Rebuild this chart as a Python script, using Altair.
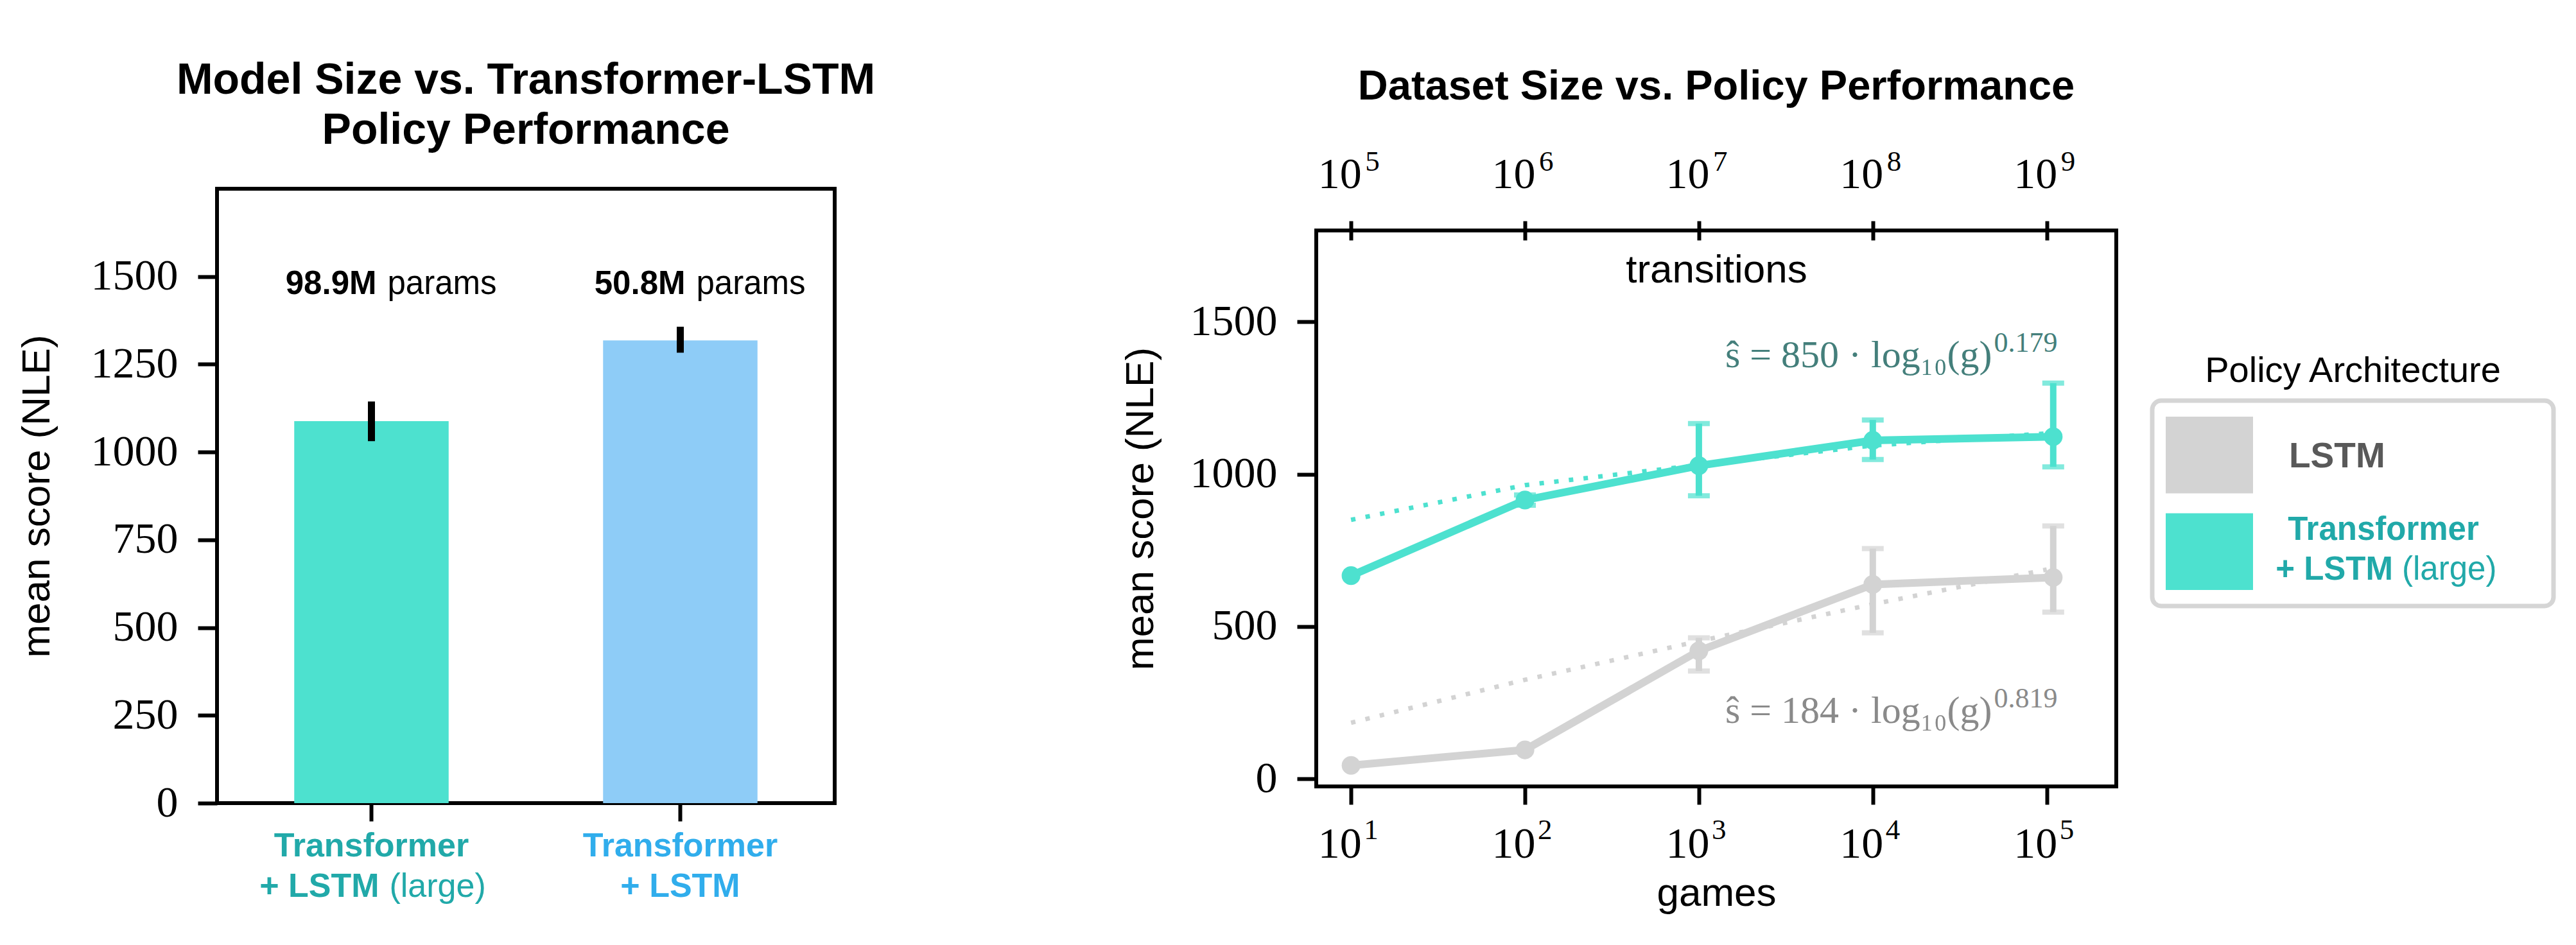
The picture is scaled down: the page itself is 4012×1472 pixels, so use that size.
import altair as alt
import pandas as pd

# ---------------- data: left panel (model size) ----------------
archs = ["Transformer + LSTM (large)", "Transformer + LSTM"]
arch_line1 = ["Transformer", "Transformer"]
arch_line2 = ["+ LSTM", "+ LSTM"]
arch_suffix = ["(large)", ""]
bar_means = [1088, 1318]
bar_err_lo = [1031, 1283]
bar_err_hi = [1144, 1357]
param_counts = ["98.9M", "50.8M"]
param_word = ["params", "params"]
param_y = [1450, 1450]
left_y_ticks = [0, 250, 500, 750, 1000, 1250, 1500]

# ---------------- data: right panel (dataset size) ----------------
series = ["LSTM", "Transformer + LSTM (large)"]
games = [10, 100, 1000, 10000, 109000]
lstm_mean = [44, 95, 420, 638, 661]
lstm_lo = [44, 95, 354, 479, 547]
lstm_hi = [44, 95, 463, 756, 830]
tr_mean = [667, 915, 1028, 1111, 1123]
tr_lo = [667, 898, 929, 1048, 1024]
tr_hi = [667, 932, 1166, 1178, 1299]
fit_games = [10, 100, 1000, 10000, 100000]
lstm_fit = [184, 325, 452, 573, 687]
tr_fit = [850, 964, 1030, 1094, 1134]
fit_labels = ["ŝ = 184 · log₁₀(g)", "ŝ = 850 · log₁₀(g)"]
fit_exponents = ["0.819", "0.179"]
fit_label_games = [48500, 48500]
fit_label_score = [184, 1351]
games_ticks = [10, 100, 1000, 10000, 100000]
transition_ticks = [1e5, 1e6, 1e7, 1e8, 1e9]
right_y_ticks = [0, 500, 1000, 1500]

# legend
legend_line1 = ["LSTM", "Transformer"]
legend_line2 = ["", "+ LSTM"]
legend_suffix = ["", "(large)"]

# ---------------- styles ----------------
SANS = "Liberation Sans, Arial, Helvetica, sans-serif"
SERIF = "Liberation Serif, Times New Roman, DejaVu Serif, serif"
TEAL = "#4DE1CF"
BLUE = "#8ECCF7"
GRAY = "#D3D3D3"
ALL_CATS = archs + ["LSTM"]
ALL_COLORS = [TEAL, BLUE, GRAY]
ARCH_LABEL_COLORS = ["#21A9A9", "#30ADEC"]
FIT_TEXT_COLORS = ["#8A8A8A", "#447F7B"]
LEGEND_TEXT_COLORS = ["#595959", "#21A9A9"]

W_L, H_L = 962, 957
W_R, H_R = 1246, 866
W_G, H_G = 625, 320

color_all = alt.Scale(domain=ALL_CATS, range=ALL_COLORS)


def y_axis(values, height, title_x):
    return alt.Axis(
        values=values, format="d", title="mean score (NLE)", grid=False, domain=False,
        labelFont=SERIF, labelFontSize=68, labelColor="black", labelPadding=31,
        labelFlush=False, labelOverlap=False,
        tickSize=30, tickWidth=6, tickColor="black",
        titleFont=SANS, titleFontSize=62, titleFontWeight="normal", titleColor="black",
        titleX=title_x, titleY=height / 2, titleAngle=270, titleBaseline="alphabetic",
        titleAlign="center",
    )


# ================= left panel =================
left_df = pd.DataFrame({
    "arch": archs, "line1": arch_line1, "line2": arch_line2, "suffix": arch_suffix,
    "mean": bar_means, "lo": bar_err_lo, "hi": bar_err_hi,
    "count": param_counts, "word": param_word, "py": param_y,
})

x_l = alt.X("arch:N", sort=archs,
            scale=alt.Scale(domain=archs, paddingInner=0.5, paddingOuter=0.25),
            axis=alt.Axis(labels=False, title=None, domain=False, grid=False,
                          tickSize=28, tickWidth=6, tickColor="black"))


def y_l(field):
    return alt.Y(f"{field}:Q", scale=alt.Scale(domain=[0, 1750], nice=False),
                 axis=y_axis(left_y_ticks, H_L, -262))


fill_arch = alt.Fill("arch:N", scale=alt.Scale(domain=archs, range=ARCH_LABEL_COLORS), legend=None)
base_l = alt.Chart(left_df)

bars = base_l.mark_bar().encode(
    x=x_l, y=y_l("mean"), color=alt.Color("arch:N", scale=color_all, legend=None))
bar_err = base_l.mark_rule(color="black", strokeWidth=11).encode(x=x_l, y=y_l("lo"), y2="hi")
p_bold = base_l.mark_text(font=SANS, fontSize=51, fontWeight="bold", align="right",
                          baseline="alphabetic", dx=8, color="black").encode(
    x=x_l, y=y_l("py"), text="count:N")
p_norm = base_l.mark_text(font=SANS, fontSize=51, fontWeight="normal", align="left",
                          baseline="alphabetic", dx=25, color="black").encode(
    x=x_l, y=y_l("py"), text="word:N")
lab1 = base_l.mark_text(font=SANS, fontSize=52, fontWeight="bold", align="center",
                        baseline="alphabetic").encode(
    x=x_l, y=alt.value(H_L + 83), text="line1:N", fill=fill_arch)
lab2a = base_l.transform_filter("datum.suffix != ''").mark_text(
    font=SANS, fontSize=52, fontWeight="bold", align="right", baseline="alphabetic", dx=12).encode(
    x=x_l, y=alt.value(H_L + 146), text="line2:N", fill=fill_arch)
lab2b = base_l.transform_filter("datum.suffix != ''").mark_text(
    font=SANS, fontSize=52, fontWeight="normal", align="left", baseline="alphabetic", dx=28).encode(
    x=x_l, y=alt.value(H_L + 146), text="suffix:N", fill=fill_arch)
lab2c = base_l.transform_filter("datum.suffix == ''").mark_text(
    font=SANS, fontSize=52, fontWeight="bold", align="center", baseline="alphabetic").encode(
    x=x_l, y=alt.value(H_L + 146), text="line2:N", fill=fill_arch)

left = alt.layer(bars, bar_err, p_bold, p_norm, lab1, lab2a, lab2b, lab2c).properties(
    width=W_L, height=H_L,
    title=alt.TitleParams(text=["Model Size vs. Transformer-LSTM", "Policy Performance"],
                          font=SANS, fontSize=68, fontWeight="bold", color="black",
                          lineHeight=78, anchor="middle", offset=56))

# ================= right panel =================
line_df = pd.DataFrame({
    "games": games * 2,
    "score": lstm_mean + tr_mean,
    "lo": lstm_lo + tr_lo,
    "hi": lstm_hi + tr_hi,
    "series": [series[0]] * len(games) + [series[1]] * len(games),
})
fit_df = pd.DataFrame({
    "games": fit_games * 2,
    "score": lstm_fit + tr_fit,
    "series": [series[0]] * len(fit_games) + [series[1]] * len(fit_games),
})
ann_df = pd.DataFrame({"games": fit_label_games, "score": fit_label_score,
                       "series": series, "label": fit_labels, "exp": fit_exponents})
gtick_df = pd.DataFrame({"games": games_ticks})
ttick_df = pd.DataFrame({"transitions": transition_ticks})

x_r = alt.X("games:Q",
            scale=alt.Scale(type="log", domain=[10 ** 0.8, 10 ** 5.4], nice=False),
            axis=alt.Axis(values=games_ticks, labelExpr="'10'", labelOffset=-18,
                          labelFont=SERIF, labelFontSize=68, labelColor="black",
                          labelBaseline="alphabetic", labelPadding=82,
                          labelFlush=False, labelOverlap=False,
                          tickSize=28, tickWidth=6, tickColor="black",
                          domain=False, grid=False, title="games",
                          titleFont=SANS, titleFontSize=62, titleFontWeight="normal",
                          titleColor="black", titleBaseline="alphabetic", titleY=185))


def y_r(field):
    return alt.Y(f"{field}:Q", scale=alt.Scale(domain=[-25, 1800], nice=False, zero=False),
                 axis=y_axis(right_y_ticks, H_R, -255))


color_s = alt.Color("series:N", scale=color_all, legend=None)

fit = alt.Chart(fit_df).mark_line(strokeWidth=7, strokeDash=[7, 16]).encode(
    x=x_r, y=y_r("score"), color=color_s)
err_base = alt.Chart(line_df).transform_filter("datum.hi > datum.lo")
err_rule = err_base.mark_rule(strokeWidth=10).encode(x=x_r, y=y_r("lo"), y2="hi", color=color_s)
cap_lo = err_base.mark_tick(orient="horizontal", size=34, thickness=8).encode(
    x=x_r, y=y_r("lo"), color=color_s)
cap_hi = err_base.mark_tick(orient="horizontal", size=34, thickness=8).encode(
    x=x_r, y=y_r("hi"), color=color_s)
lines = alt.Chart(line_df).mark_line(strokeWidth=12).encode(x=x_r, y=y_r("score"), color=color_s)
points = alt.Chart(line_df).mark_circle(size=850, opacity=1).encode(
    x=x_r, y=y_r("score"), color=color_s)
fill_fit = alt.Fill("series:N", scale=alt.Scale(domain=series, range=FIT_TEXT_COLORS), legend=None)
ann_main = alt.Chart(ann_df).mark_text(font=SERIF, fontSize=60, align="right",
                                       baseline="alphabetic").encode(
    x=x_r, y=y_r("score"), text="label:N", fill=fill_fit)
ann_exp = alt.Chart(ann_df).mark_text(font=SERIF, fontSize=44, align="left",
                                      baseline="alphabetic", dx=3, dy=-24).encode(
    x=x_r, y=y_r("score"), text="exp:N", fill=fill_fit)
exp_bottom = alt.Chart(gtick_df).transform_calculate(
    exp="format(round(log(datum.games) / LN10), 'd')").mark_text(
    font=SERIF, fontSize=45, align="left", baseline="alphabetic", dx=20, color="black").encode(
    x=x_r, y=alt.value(H_R + 110 - 28), text="exp:N")

inner = alt.layer(fit, err_rule, cap_lo, cap_hi, lines, points, ann_main, ann_exp, exp_bottom)

x_t = alt.X("transitions:Q",
            scale=alt.Scale(type="log", domain=[10 ** 4.8, 10 ** 9.4], nice=False),
            axis=alt.Axis(orient="top", values=transition_ticks, labelExpr="'10'",
                          labelOffset=-18, labelFont=SERIF, labelFontSize=68,
                          labelColor="black", labelBaseline="alphabetic", labelPadding=52,
                          labelFlush=False, labelOverlap=False, offset=-15,
                          tickSize=30, tickWidth=6, tickColor="black",
                          domain=False, grid=False, title="transitions",
                          titleFont=SANS, titleFontSize=62, titleFontWeight="normal",
                          titleColor="black", titleBaseline="alphabetic", titleY=65))
exp_top = alt.Chart(ttick_df).transform_calculate(
    exp="format(round(log(datum.transitions) / LN10), 'd')").mark_text(
    font=SERIF, fontSize=45, align="left", baseline="alphabetic", dx=22, color="black").encode(
    x=x_t, y=alt.value(-93), text="exp:N")

right = alt.layer(inner, exp_top).resolve_scale(x="independent").properties(
    width=W_R, height=H_R,
    title=alt.TitleParams(text="Dataset Size vs. Policy Performance", font=SANS, fontSize=65,
                          fontWeight="bold", color="black", anchor="middle", offset=61))

# ================= legend panel =================
leg_df = pd.DataFrame({"series": series, "line1": legend_line1, "line2": legend_line2,
                       "suffix": legend_suffix})
y_g = alt.Y("series:N", sort=series,
            scale=alt.Scale(domain=series, paddingInner=0.205, paddingOuter=0.166), axis=None)
fill_leg = alt.Fill("series:N", scale=alt.Scale(domain=series, range=LEGEND_TEXT_COLORS), legend=None)
base_g = alt.Chart(leg_df)
swatch = base_g.mark_rect().encode(
    x=alt.value(21), x2=alt.value(157), y=y_g,
    color=alt.Color("series:N", scale=color_all, legend=None))
g_single = base_g.transform_filter("datum.line2 == ''").mark_text(
    font=SANS, fontSize=55, fontWeight="bold", align="left", baseline="alphabetic", dy=19).encode(
    x=alt.value(213), y=y_g, text="line1:N", fill=fill_leg)
g_l1 = base_g.transform_filter("datum.line2 != ''").mark_text(
    font=SANS, fontSize=51, fontWeight="bold", align="center", baseline="alphabetic", dy=-18).encode(
    x=alt.value(360), y=y_g, text="line1:N", fill=fill_leg)
g_l2 = base_g.transform_filter("datum.line2 != ''").mark_text(
    font=SANS, fontSize=51, fontWeight="bold", align="right", baseline="alphabetic", dy=44).encode(
    x=alt.value(375), y=y_g, text="line2:N", fill=fill_leg)
g_l3 = base_g.transform_filter("datum.line2 != ''").mark_text(
    font=SANS, fontSize=51, fontWeight="normal", align="left", baseline="alphabetic", dy=44).encode(
    x=alt.value(389), y=y_g, text="suffix:N", fill=fill_leg)

legend_panel = alt.layer(swatch, g_single, g_l1, g_l2, g_l3).properties(
    width=W_G, height=H_G,
    view=alt.ViewBackground(stroke="#D5D5D5", strokeWidth=7, cornerRadius=14, fill="white"),
    title=alt.TitleParams(text="Policy Architecture", font=SANS, fontSize=56,
                          fontWeight="normal", color="black", anchor="middle", offset=17))


# ================= spacers for vertical placement =================
def spacer(w):
    return alt.Chart(pd.DataFrame({"v": [0]})).mark_point(opacity=0).encode(
        x=alt.X("v:Q", axis=None), y=alt.Y("v:Q", axis=None)).properties(
        width=w, height=1, view=alt.ViewBackground(stroke="transparent"))


IND = dict(color="independent", fill="independent")

col_legend = alt.vconcat(spacer(W_G), legend_panel, spacing=264, bounds="flush").resolve_scale(**IND)
row_right = alt.hconcat(right, col_legend, spacing=56, bounds="flush").resolve_scale(**IND)
col_right = alt.vconcat(spacer(W_R), row_right, spacing=64, bounds="flush").resolve_scale(**IND)

chart = alt.hconcat(left, col_right, spacing=750, bounds="flush").resolve_scale(**IND).properties(
    padding={"left": 15, "top": 81, "right": 10, "bottom": 10},
    background="white",
).configure_view(stroke="black", strokeWidth=6)

chart.save("out.html", embed_options={"renderer": "svg", "actions": False})
